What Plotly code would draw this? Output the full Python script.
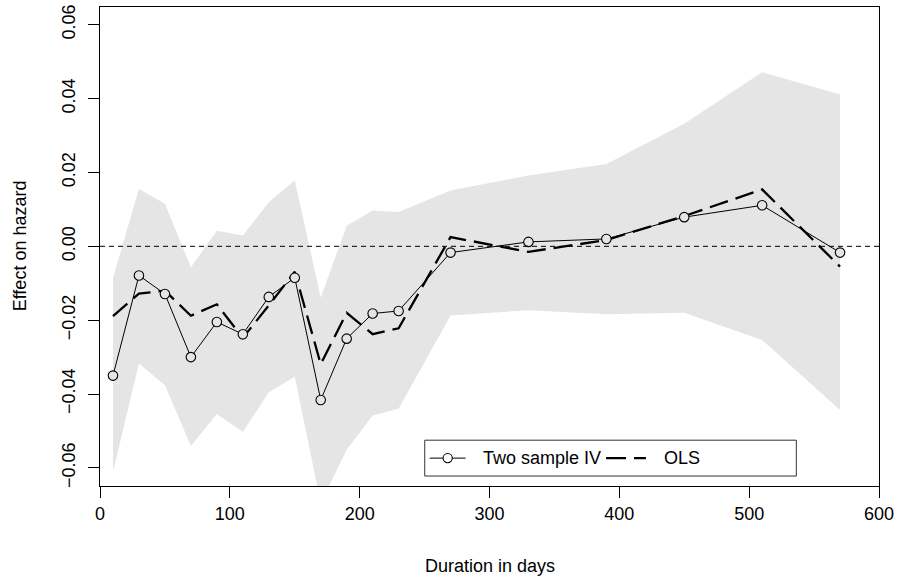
import plotly.graph_objects as go

# ---- data ----
duration = [10, 30, 50, 70, 90, 110, 130, 150, 170, 190, 210, 230, 270, 330, 390, 450, 510, 570]
iv_effect = [-0.0350, -0.0079, -0.0129, -0.0300, -0.0205, -0.0238, -0.0137, -0.0085, -0.0416,
             -0.0250, -0.0182, -0.0175, -0.0017, 0.0012, 0.0020, 0.0079, 0.0111, -0.0017]
ols_effect = [-0.0189, -0.0128, -0.0120, -0.0188, -0.0157, -0.0248, -0.0160, -0.0069, -0.0319,
              -0.0180, -0.0238, -0.0222, 0.0025, -0.0015, 0.0017, 0.0082, 0.0154, -0.0055]
ci_upper = [-0.0085, 0.0155, 0.0115, -0.0057, 0.0042, 0.0029, 0.0119, 0.0178, -0.0139,
            0.0056, 0.0097, 0.0093, 0.0151, 0.0192, 0.0223, 0.0332, 0.0471, 0.0411]
ci_lower = [-0.0611, -0.0317, -0.0376, -0.0541, -0.0454, -0.0503, -0.0395, -0.0353, -0.0695,
            -0.0551, -0.0458, -0.0440, -0.0187, -0.0173, -0.0184, -0.0180, -0.0254, -0.0443]
x_ticks = [0, 100, 200, 300, 400, 500, 600]
y_ticks = [-0.06, -0.04, -0.02, 0.00, 0.02, 0.04, 0.06]
legend_labels = ["Two sample IV", "OLS"]

W, H = 899, 580
ML, MR, MT, MB = 100, 17, 5, 94
PW, PH = W - ML - MR, H - MT - MB
FONT = "Liberation Sans, Arial, Helvetica, sans-serif"
Y_RANGE = [-0.0649, 0.0648]


def px2x(px):
    return (px - ML) / PW


def py2y(py):
    return (H - MB - py) / PH


fig = go.Figure()

# confidence band
fig.add_trace(go.Scatter(
    x=duration + duration[::-1],
    y=ci_upper + ci_lower[::-1],
    fill="toself", fillcolor="#e5e5e5", mode="lines",
    line=dict(width=0, color="#e5e5e5"), hoverinfo="skip", showlegend=False))

# OLS dashed line
fig.add_trace(go.Scatter(
    x=duration, y=ols_effect, mode="lines",
    line=dict(color="black", width=2.3, dash="19px,8px"),
    showlegend=False))

# Two sample IV line with circles
fig.add_trace(go.Scatter(
    x=duration, y=iv_effect, mode="lines+markers",
    line=dict(color="black", width=1),
    marker=dict(symbol="circle", size=9.5, color="#e5e5e5",
                line=dict(color="black", width=1.1)),
    showlegend=False))

# invisible trace on label axis so it renders
fig.add_trace(go.Scatter(x=[None], y=[None], yaxis="y2", showlegend=False, hoverinfo="skip"))

shapes = [
    # zero reference line
    dict(type="line", xref="paper", yref="y", x0=0, x1=1, y0=0, y1=0,
         line=dict(color="black", width=1, dash="5px,4px"), layer="above"),
    # legend box
    dict(type="rect", xref="paper", yref="paper",
         x0=px2x(426), x1=px2x(799), y0=py2y(476), y1=py2y(440),
         line=dict(color="#333333", width=1), fillcolor="white", layer="above"),
    # legend IV line
    dict(type="line", xref="paper", yref="paper",
         x0=px2x(431), x1=px2x(467), y0=py2y(458), y1=py2y(458),
         line=dict(color="black", width=1), layer="above"),
    # legend IV circle
    dict(type="circle", xref="paper", yref="paper", xsizemode="pixel", ysizemode="pixel",
         xanchor=px2x(449), yanchor=py2y(458), x0=-4.6, x1=4.6, y0=-4.6, y1=4.6,
         line=dict(color="black", width=1.1), fillcolor="white", layer="above"),
    # legend OLS line
    dict(type="line", xref="paper", yref="paper",
         x0=px2x(608), x1=px2x(648), y0=py2y(458), y1=py2y(458),
         line=dict(color="black", width=2.3, dash="20px,8px"), layer="above"),
]

annotations = [
    dict(text=legend_labels[0], xref="paper", yref="paper", x=px2x(482), y=py2y(458),
         xanchor="left", yanchor="middle", showarrow=False,
         font=dict(family=FONT, size=18, color="black")),
    dict(text=legend_labels[1], xref="paper", yref="paper", x=px2x(664), y=py2y(458),
         xanchor="left", yanchor="middle", showarrow=False,
         font=dict(family=FONT, size=18, color="black")),
    dict(text="Duration in days", xref="paper", yref="paper", x=0.5, y=py2y(566),
         xanchor="center", yanchor="middle", showarrow=False,
         font=dict(family=FONT, size=18, color="black")),
    dict(text="Effect on hazard", xref="paper", yref="paper", x=px2x(20), y=py2y(245),
         xanchor="center", yanchor="middle", showarrow=False, textangle=-90,
         font=dict(family=FONT, size=18, color="black")),
]

fig.update_layout(
    width=W, height=H,
    margin=dict(l=ML, r=MR, t=MT, b=MB, pad=0),
    paper_bgcolor="white", plot_bgcolor="white",
    font=dict(family=FONT, size=18, color="black"),
    shapes=shapes, annotations=annotations, showlegend=False,
    xaxis=dict(range=[0, 600], tickvals=x_ticks, ticks="outside", ticklen=11,
               tickwidth=1, tickcolor="black", showgrid=False, zeroline=False,
               showline=True, mirror=True, linecolor="black", linewidth=1,
               tickfont=dict(family=FONT, size=18, color="black")),
    yaxis=dict(range=Y_RANGE, tickvals=y_ticks, showticklabels=False,
               ticks="outside", ticklen=11, tickwidth=1, tickcolor="black",
               showgrid=False, zeroline=False, showline=True, mirror=True,
               linecolor="black", linewidth=1),
    yaxis2=dict(range=Y_RANGE, tickvals=y_ticks, tickformat=".2f", overlaying="y",
                side="left", ticks="outside", ticklen=17, tickcolor="rgba(0,0,0,0)",
                showgrid=False, zeroline=False, showline=False, tickangle=-90,
                tickfont=dict(family=FONT, size=18, color="black")),
)

fig.write_html("out.html")
